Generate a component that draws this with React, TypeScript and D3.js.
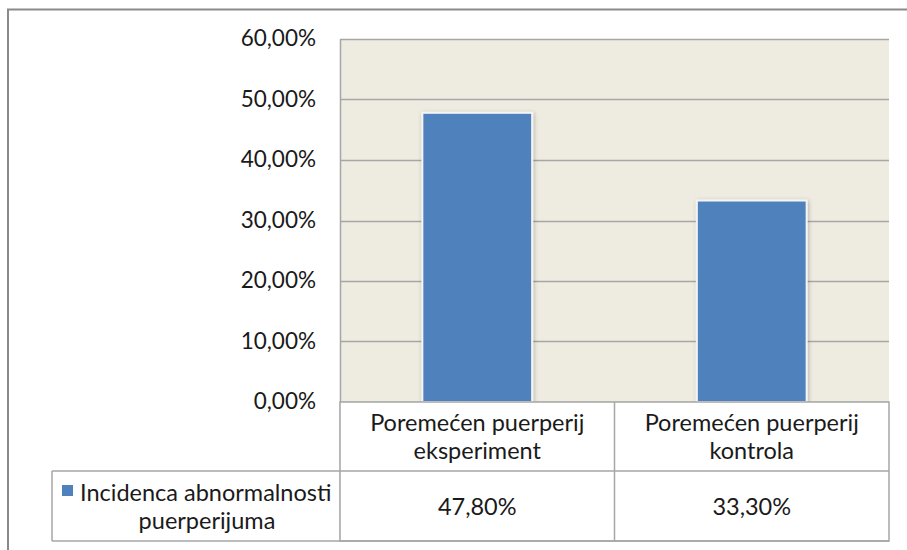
import React from "react";
import * as d3 from "d3";

const categories: string[][] = [
  ["Poremećen puerperij", "eksperiment"],
  ["Poremećen puerperij", "kontrola"],
];
const values: number[] = [0.478, 0.333];
const valueLabels: string[] = ["47,80%", "33,30%"];
const seriesName: string[] = ["Incidenca abnormalnosti", "puerperijuma"];
const yTicks: number[] = [0, 0.1, 0.2, 0.3, 0.4, 0.5, 0.6];

const W = 907;
const H = 550;
const FONT = "Lato, 'Open Sans', sans-serif";

export default function App() {
  const plot = { left: 340, right: 889, top: 39, bottom: 402 };
  const y = d3.scaleLinear().domain([0, 0.6]).range([plot.bottom, plot.top]);
  const x = d3
    .scaleBand<number>()
    .domain(categories.map((_, i) => i))
    .range([plot.left, plot.right])
    .paddingInner(0.6)
    .paddingOuter(0.3);
  const xCell = d3
    .scaleBand<number>()
    .domain(categories.map((_, i) => i))
    .range([plot.left, plot.right]);
  const fmt = (v: number) => d3.format(".2f")(v * 100).replace(".", ",") + "%";
  const rowTop = plot.bottom;
  const rowMid = 471;
  const rowBot = 541;
  const legLeft = 52;
  const grid = "#a6a6a6";
  const tableLine = "#a6a6a6";
  const tickFS = 22.5;
  const tableFS = 23.5;
  return (
    <svg
      width={W}
      height={H}
      style={{ position: "absolute", left: 0, top: 0, fontFamily: FONT }}
    >
      <defs>
        <filter id="sh" x="-20%" y="-20%" width="140%" height="140%">
          <feGaussianBlur in="SourceAlpha" stdDeviation="2" />
          <feOffset dx="1" dy="1" result="b" />
          <feComponentTransfer>
            <feFuncA type="linear" slope="0.25" />
          </feComponentTransfer>
          <feMerge>
            <feMergeNode />
            <feMergeNode in="SourceGraphic" />
          </feMerge>
        </filter>
      </defs>
      <rect x={0} y={0} width={W} height={H} fill="#ffffff" />
      <rect
        x={8}
        y={9.5}
        width={W + 10}
        height={H + 10}
        fill="#ffffff"
        stroke="#8a8a8a"
        strokeWidth={2}
      />
      <rect
        x={plot.left}
        y={plot.top}
        width={plot.right - plot.left}
        height={plot.bottom - plot.top}
        fill="#eeebe0"
      />
      {yTicks.map((t) => (
        <line
          key={"g" + t}
          x1={plot.left}
          x2={plot.right}
          y1={Math.round(y(t)) + 0.5}
          y2={Math.round(y(t)) + 0.5}
          stroke={grid}
          strokeWidth={1.5}
        />
      ))}
      <line
        x1={plot.left + 0.5}
        x2={plot.left + 0.5}
        y1={plot.top}
        y2={rowBot}
        stroke={grid}
        strokeWidth={1.5}
      />
      {yTicks.map((t) => (
        <text
          key={"t" + t}
          x={316}
          y={y(t)}
          dy="0.33em"
          textAnchor="end"
          fontSize={tickFS}
          fill="#1a1a1a"
        >
          {fmt(t)}
        </text>
      ))}
      {values.map((v, i) => (
        <rect
          key={"b" + i}
          x={x(i)}
          y={y(v)}
          width={x.bandwidth()}
          height={plot.bottom - y(v)}
          fill="#4f81bd"
          stroke="#f4f4f4"
          strokeWidth={2}
          filter="url(#sh)"
        />
      ))}
      {/* data table */}
      <rect x={plot.left} y={rowTop} width={plot.right - plot.left} height={rowBot - rowTop} fill="#ffffff" />
      <rect x={plot.left} y={rowTop} width={plot.right - plot.left} height={rowBot - rowTop} fill="none" stroke={tableLine} strokeWidth={1.5} />
      <line x1={legLeft} x2={plot.right} y1={rowMid} y2={rowMid} stroke={tableLine} strokeWidth={1.5} />
      <line x1={legLeft} x2={plot.right} y1={rowBot} y2={rowBot} stroke={tableLine} strokeWidth={1.5} />
      <line x1={legLeft} x2={legLeft} y1={rowMid} y2={rowBot} stroke={tableLine} strokeWidth={1.5} />
      {categories.map((_, i) =>
        i > 0 ? (
          <line
            key={"d" + i}
            x1={xCell(i)}
            x2={xCell(i)}
            y1={rowTop}
            y2={rowBot}
            stroke={tableLine}
            strokeWidth={1.5}
          />
        ) : null
      )}
      {categories.map((lines, i) => (
        <text
          key={"c" + i}
          x={(xCell(i) as number) + xCell.bandwidth() / 2}
          textAnchor="middle"
          fontSize={tableFS}
          fill="#1a1a1a"
        >
          {lines.map((l, j) => (
            <tspan key={j} x={(xCell(i) as number) + xCell.bandwidth() / 2} y={431 + j * 28}>
              {l}
            </tspan>
          ))}
        </text>
      ))}
      {valueLabels.map((l, i) => (
        <text
          key={"v" + i}
          x={(xCell(i) as number) + xCell.bandwidth() / 2}
          y={515}
          textAnchor="middle"
          fontSize={tableFS}
          fill="#1a1a1a"
        >
          {l}
        </text>
      ))}
      <rect x={62} y={485} width={11} height={11} fill="#4f81bd" />
      <text x={80} y={501} fontSize={tableFS} fill="#1a1a1a">
        {seriesName[0]}
      </text>
      <text x={207} y={529} textAnchor="middle" fontSize={tableFS} fill="#1a1a1a">
        {seriesName[1]}
      </text>
    </svg>
  );
}
